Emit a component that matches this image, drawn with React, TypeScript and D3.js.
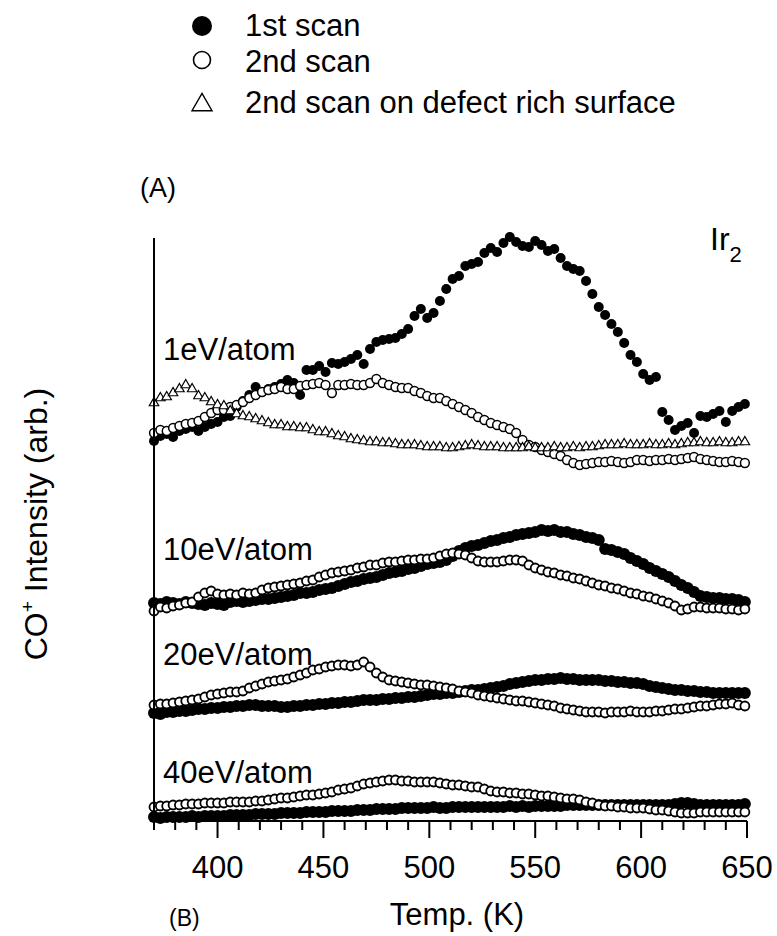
import React from "react";
import * as d3 from "d3";

// Temperature grid (K)
const temps = [370,373,376,379,382,385,388,391,394,397,400,403,406,409,412,415,418,421,424,427,430,433,436,439,442,445,448,451,454,457,460,463,466,469,472,475,478,481,484,487,490,493,496,499,502,505,508,511,514,517,520,523,526,529,532,535,538,541,544,547,550,553,556,559,562,565,568,571,574,577,580,583,586,589,592,595,598,601,604,607,610,613,616,619,622,625,628,631,634,637,640,643,646,649];

// CO+ intensity (arb., with vertical offsets as plotted)
const ev1First = [380,385,387,384,390,392,394,390,394,397,399,404,405,414,420,426,434,429,432,434,437,441,438,426,451,451,455,449,458,457,459,462,466,457,472,479,481,482,483,487,492,505,512,503,508,520,532,542,545,555,557,559,568,573,569,578,584,579,575,574,580,576,570,572,563,555,552,550,540,527,514,506,497,489,478,466,459,447,441,444,409,401,391,395,398,388,405,404,407,410,399,410,414,417];
const ev1Second = [388,391,390,393,395,397,398,400,404,408,411,411,414,416,419,423,426,429,431,432,434,432,432,435,436,437,438,436,428,436,436,437,436,436,438,442,438,436,434,433,433,430,428,425,423,423,420,417,414,411,408,404,401,398,396,394,392,388,381,376,374,371,369,367,365,361,358,356,357,358,359,359,360,359,358,359,361,361,360,361,361,362,361,362,363,364,362,361,360,359,359,360,359,358];
const ev1Defect = [418,423,424,428,432,436,432,425,423,419,416,415,410,407,405,404,402,400,398,396,396,394,394,393,393,391,389,389,387,385,384,382,381,380,379,379,378,378,377,376,376,376,375,374,374,374,373,373,374,375,376,375,374,374,374,373,373,373,373,374,373,373,373,374,373,373,374,373,374,374,375,376,376,376,377,376,376,376,377,376,376,377,376,377,378,378,379,378,378,379,378,378,379,379];
const ev10First = [218,217,219,218,217,219,218,217,216,218,217,216,219,220,219,220,221,222,222,223,224,225,226,228,228,229,231,232,233,235,237,239,240,242,243,244,246,248,249,250,252,253,255,257,258,259,261,265,270,273,275,276,278,280,281,283,284,286,287,288,289,291,290,291,289,289,287,286,284,283,281,272,271,269,267,263,260,257,253,250,247,244,240,236,233,229,225,224,223,223,222,222,221,219];
const ev10Second = [210,214,213,215,216,218,219,224,228,230,227,226,227,226,228,227,228,231,233,234,235,236,237,238,240,241,244,246,248,249,250,251,253,254,256,256,258,259,259,260,261,261,262,262,263,265,267,268,267,266,263,260,259,259,259,260,261,261,260,256,253,251,249,248,246,245,243,242,240,238,236,235,233,232,230,228,227,225,224,222,220,218,215,211,212,214,214,213,213,213,212,212,211,212];
const ev20First = [108,107,109,109,110,110,111,112,112,113,113,114,114,115,115,116,116,115,115,115,114,114,115,115,116,116,117,117,118,118,119,119,120,121,121,121,122,122,123,123,124,124,125,126,127,127,128,128,129,130,131,131,132,133,134,135,137,138,139,140,141,141,142,142,143,142,142,141,141,141,141,140,140,139,139,138,138,137,135,134,133,132,131,131,130,130,129,129,128,128,128,128,128,128];
const ev20Second = [116,117,117,118,119,120,121,122,124,126,127,128,129,129,130,133,135,137,139,140,141,142,144,146,148,151,152,154,155,156,156,155,156,159,154,148,144,141,140,139,138,137,136,136,135,134,133,132,130,129,128,126,125,124,123,122,121,120,120,119,118,117,116,115,113,112,111,110,109,109,109,108,109,109,109,110,109,109,109,110,110,111,112,112,113,114,115,115,116,117,117,118,116,115];
const ev40First = [4,3,4,4,4,4,5,4,5,5,5,5,6,6,6,6,7,7,7,7,8,8,8,8,9,9,9,9,10,10,10,10,11,11,11,12,12,12,12,13,13,13,13,13,14,13,13,14,14,14,14,14,14,14,14,14,15,14,15,14,15,15,15,15,15,16,16,16,16,16,16,16,16,16,16,16,16,16,16,16,16,16,17,18,18,17,16,16,16,16,16,16,16,17];
const ev40Second = [14,15,15,16,16,17,17,17,18,18,18,18,19,19,19,19,20,20,21,22,23,23,24,25,26,26,27,28,29,31,32,33,35,37,38,39,40,41,41,40,40,39,39,39,39,38,37,36,36,35,34,34,32,30,29,29,28,28,27,27,26,25,25,24,23,22,22,21,19,18,16,15,15,14,14,13,13,13,12,11,11,10,9,8,8,8,9,9,9,9,9,9,9,9];

const panelLabels = ["1eV/atom", "10eV/atom", "20eV/atom", "40eV/atom"];
const legendLabels = ["1st scan", "2nd scan", "2nd scan on defect rich surface"];
const xTicks = [400, 450, 500, 550, 600, 650];
const minorTicks = [370, 380, 390, 410, 420, 430, 440, 460, 470, 480, 490, 510, 520, 530, 540, 560, 570, 580, 590, 610, 620, 630, 640];

const FONT = "'Liberation Sans', Arial, Helvetica, sans-serif";

type Kind = "filled" | "open" | "triangle";
const seriesList: { values: number[]; kind: Kind; r: number; sw: number }[] = [
  { values: ev1First, kind: "filled", r: 5, sw: 0 },
  { values: ev1Second, kind: "open", r: 4.4, sw: 1.5 },
  { values: ev1Defect, kind: "triangle", r: 4.5, sw: 1.2 },
  { values: ev10First, kind: "filled", r: 6, sw: 0 },
  { values: ev10Second, kind: "open", r: 4.5, sw: 1.8 },
  { values: ev20First, kind: "filled", r: 6, sw: 0 },
  { values: ev20Second, kind: "open", r: 4.5, sw: 1.8 },
  { values: ev40First, kind: "filled", r: 6, sw: 0 },
  { values: ev40Second, kind: "open", r: 4.5, sw: 1.8 },
];

export default function App() {
  const x = d3.scaleLinear().domain([370, 650]).range([154, 747]);
  const y = d3.scaleLinear().domain([0, 600]).range([821, 221]);
  const triPath = (side: number) => d3.symbol(d3.symbolTriangle, (side * side * Math.sqrt(3)) / 4)() as string;

  const renderMark = (kind: Kind, cx: number, cy: number, r: number, sw: number, key: string) => {
    if (kind === "filled") return <circle key={key} cx={cx} cy={cy} r={r} fill="#000" />;
    if (kind === "open")
      return <circle key={key} cx={cx} cy={cy} r={r} fill="#fff" stroke="#000" strokeWidth={sw} />;
    return (
      <path key={key} d={triPath(r * 2.1)} transform={`translate(${cx},${cy})`} fill="#fff" stroke="#000" strokeWidth={sw} />
    );
  };

  const panelBaselines = [360, 560, 665, 783];
  const legendY = [26, 60, 105];
  const legendBase = [36, 72, 113];

  return (
    <svg width={777} height={936} style={{ position: "absolute", left: 0, top: 0, background: "#fff" }} fontFamily={FONT}>
      <rect x={0} y={0} width={777} height={936} fill="#fff" />
      {/* legend */}
      <circle cx={202} cy={legendY[0]} r={10} fill="#000" />
      <circle cx={202} cy={legendY[1]} r={8.5} fill="#fff" stroke="#000" strokeWidth={1.6} />
      <path d={triPath(20)} transform={`translate(202,${legendY[2]})`} fill="#fff" stroke="#000" strokeWidth={1.4} />
      {legendLabels.map((t, i) => (
        <text key={t} x={245} y={legendBase[i]} fontSize={31} fill="#000">{t}</text>
      ))}
      <text x={140} y={197} fontSize={27} fill="#000">(A)</text>
      <text x={710} y={250} fontSize={32} fill="#000">Ir<tspan fontSize={22} dy={12}>2</tspan></text>

      {/* data */}
      {seriesList.map((s, si) => (
        <g key={si}>
          {s.values.map((v, i) => renderMark(s.kind, x(temps[i]), y(v), s.r, s.sw, `${si}-${i}`))}
        </g>
      ))}

      {/* panel labels */}
      {panelLabels.map((t, i) => (
        <text key={t} x={163} y={panelBaselines[i]} fontSize={31} fill="#000">{t}</text>
      ))}

      {/* axes */}
      <line x1={x(370)} x2={x(370)} y1={238} y2={y(0)} stroke="#000" strokeWidth={2} />
      <line x1={x(370)} x2={x(650)} y1={y(0)} y2={y(0)} stroke="#000" strokeWidth={2} />
      {minorTicks.map((t) => (
        <line key={t} x1={x(t)} x2={x(t)} y1={y(0)} y2={y(0) + 9} stroke="#000" strokeWidth={2} />
      ))}
      {xTicks.map((t) => (
        <g key={t}>
          <line x1={x(t)} x2={x(t)} y1={y(0)} y2={y(0) + 17} stroke="#000" strokeWidth={2} />
          <text x={x(t)} y={878} fontSize={31} textAnchor="middle" fill="#000">{t}</text>
        </g>
      ))}
      <text x={457} y={925} fontSize={31} textAnchor="middle" fill="#000">Temp. (K)</text>
      <text x={169} y={926} fontSize={23} fill="#000">(B)</text>
      <text transform="translate(47,524) rotate(-90)" fontSize={32} textAnchor="middle" fill="#000">
        CO<tspan fontSize={19} dy={-13}>+</tspan><tspan dy={13}> Intensity (arb.)</tspan>
      </text>
    </svg>
  );
}
